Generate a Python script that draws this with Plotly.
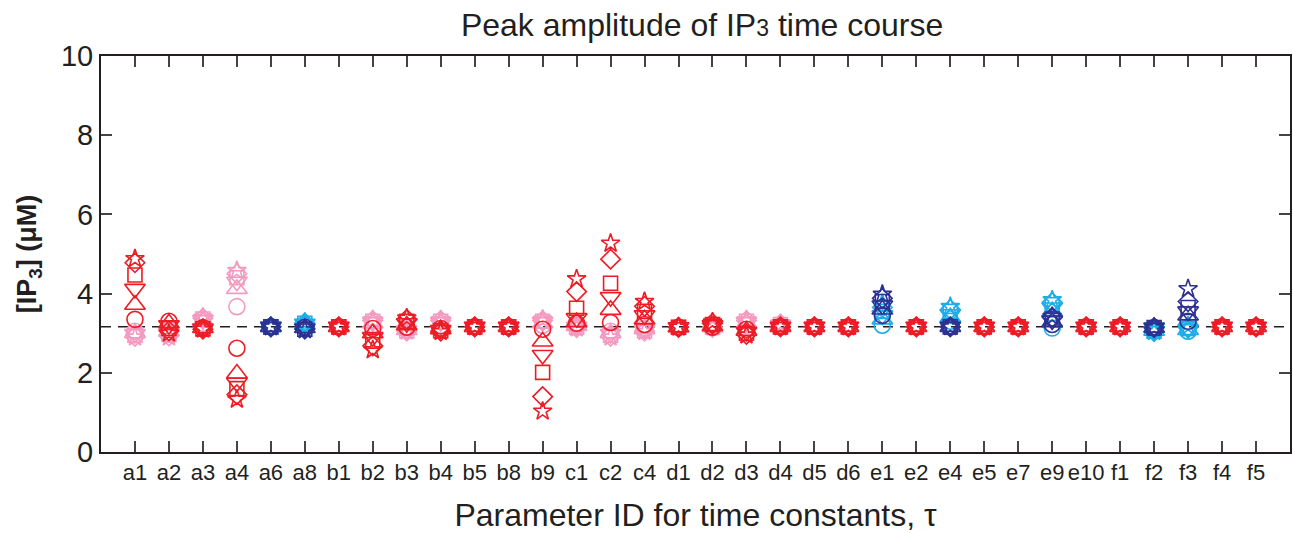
import plotly.graph_objects as go

categories = ["a1","a2","a3","a4","a6","a8","b1","b2","b3","b4","b5","b8","b9",
              "c1","c2","c4","d1","d2","d3","d4","d5","d6",
              "e1","e2","e4","e5","e7","e9","e10","f1","f2","f3","f4","f5"]

# primary series (red / dark blue) per marker type
p_circle   = [3.35,3.30,3.14,2.62,3.16,3.15,3.16,3.12,3.15,3.12,3.16,3.16,3.10,3.25,3.27,3.22,3.15,3.15,3.10,3.16,3.16,3.16,3.45,3.16,3.16,3.16,3.16,3.22,3.16,3.16,3.14,3.30,3.16,3.16]
p_tri_up   = [3.72,3.25,3.13,1.98,3.16,3.13,3.16,3.00,3.20,3.10,3.16,3.16,2.79,3.28,3.59,3.35,3.15,3.18,3.06,3.16,3.16,3.16,3.60,3.16,3.16,3.16,3.16,3.28,3.16,3.16,3.14,3.45,3.16,3.16]
p_tri_down = [4.12,3.20,3.12,1.75,3.16,3.12,3.16,2.90,3.25,3.08,3.16,3.16,2.45,3.38,3.91,3.45,3.15,3.20,3.03,3.16,3.16,3.16,3.70,3.16,3.16,3.16,3.16,3.32,3.16,3.16,3.14,3.55,3.16,3.16]
p_square   = [4.47,3.12,3.11,1.60,3.16,3.10,3.16,2.80,3.30,3.06,3.16,3.16,2.01,3.63,4.26,3.55,3.15,3.22,3.00,3.16,3.16,3.16,3.80,3.16,3.16,3.16,3.16,3.36,3.16,3.16,3.14,3.65,3.16,3.16]
p_diamond  = [4.78,3.06,3.10,1.45,3.16,3.10,3.16,2.68,3.35,3.05,3.16,3.16,1.40,4.05,4.87,3.68,3.15,3.25,2.97,3.16,3.16,3.16,3.88,3.16,3.16,3.16,3.16,3.40,3.16,3.16,3.14,3.80,3.16,3.16]
p_star     = [4.88,3.00,3.10,1.33,3.16,3.08,3.16,2.58,3.38,3.04,3.16,3.16,1.03,4.37,5.27,3.80,3.15,3.28,2.95,3.16,3.16,3.16,3.98,3.16,3.16,3.16,3.16,3.42,3.16,3.16,3.14,4.12,3.16,3.16]

# secondary series (pink / light blue) per marker type
s_circle   = [3.05,3.10,3.25,3.67,3.16,3.20,3.16,3.20,3.10,3.20,3.16,3.16,3.20,3.20,3.05,3.12,3.15,3.15,3.20,3.18,3.16,3.16,3.20,3.16,3.30,3.16,3.16,3.13,3.16,3.16,3.06,3.05,3.16,3.16]
s_tri_up   = [3.00,3.05,3.30,4.12,3.16,3.22,3.16,3.25,3.08,3.25,3.16,3.16,3.25,3.18,3.00,3.10,3.15,3.15,3.25,3.20,3.16,3.16,3.35,3.16,3.40,3.16,3.16,3.55,3.16,3.16,3.06,3.08,3.16,3.16]
s_tri_down = [2.98,3.00,3.33,4.30,3.16,3.24,3.16,3.28,3.07,3.28,3.16,3.16,3.28,3.16,2.98,3.08,3.15,3.15,3.28,3.21,3.16,3.16,3.45,3.16,3.48,3.16,3.16,3.65,3.16,3.16,3.05,3.10,3.16,3.16]
s_square   = [2.95,2.97,3.36,4.40,3.16,3.25,3.16,3.30,3.06,3.30,3.16,3.16,3.30,3.15,2.95,3.06,3.15,3.15,3.30,3.22,3.16,3.16,3.55,3.16,3.55,3.16,3.16,3.72,3.16,3.16,3.05,3.12,3.16,3.16]
s_diamond  = [2.92,2.93,3.38,4.50,3.16,3.26,3.16,3.32,3.05,3.32,3.16,3.16,3.32,3.14,2.92,3.05,3.15,3.15,3.32,3.23,3.16,3.16,3.65,3.16,3.60,3.16,3.16,3.78,3.16,3.16,3.04,3.15,3.16,3.16]
s_star     = [2.90,2.90,3.40,4.58,3.16,3.27,3.16,3.34,3.05,3.34,3.16,3.16,3.35,3.13,2.90,3.04,3.15,3.15,3.34,3.24,3.16,3.16,3.75,3.16,3.67,3.16,3.16,3.84,3.16,3.16,3.04,3.18,3.16,3.16]

blue_ids = ["a6","a8","e1","e4","e9","f2","f3"]
baseline = 3.16
y_ticks = [0, 2, 4, 6, 8, 10]

RED, PINK, DBLUE, LBLUE = "#ED1C24", "#F49AC1", "#2E3192", "#1CAEE8"
prim_colors = [DBLUE if c in blue_ids else RED for c in categories]
sec_colors = [LBLUE if c in blue_ids else PINK for c in categories]

xpos = list(range(1, len(categories) + 1))
symbols = [("circle", 16), ("triangle-up", 18), ("triangle-down", 18),
           ("square", 14), ("diamond", 15), ("star", 14)]

fig = go.Figure()
for vals_set, cols in [((s_circle, s_tri_up, s_tri_down, s_square, s_diamond, s_star), sec_colors),
                       ((p_circle, p_tri_up, p_tri_down, p_square, p_diamond, p_star), prim_colors)]:
    for (sym, sz), vals in zip(symbols, vals_set):
        fig.add_trace(go.Scatter(
            x=xpos, y=vals, mode="markers", showlegend=False, hoverinfo="skip",
            marker=dict(symbol=sym, size=sz, color="rgba(0,0,0,0)",
                        line=dict(color=cols, width=1.6))))

fig.add_shape(type="line", xref="x", yref="y", x0=0, x1=len(categories) + 1,
              y0=baseline, y1=baseline, layer="below",
              line=dict(color="#231F20", width=1.5, dash="10px,7px"))

FONT = "Liberation Sans, Arial, sans-serif"
TXT = "#231F20"
fig.update_layout(
    width=1293, height=533,
    margin=dict(l=101, r=1, t=56, b=81),
    plot_bgcolor="white", paper_bgcolor="white",
    font=dict(family=FONT, color=TXT),
    title=dict(text="Peak amplitude of IP<span style='font-size:23px'>3</span> time course",
               x=0.543, xanchor="center", xref="container", y=0.953, yanchor="middle",
               yref="container", font=dict(size=32, color=TXT, family=FONT)),
    xaxis=dict(range=[0, len(categories) + 1], tickvals=xpos, ticktext=categories,
               ticks="inside", ticklen=11, tickwidth=1.5, tickcolor="#444",
               showline=True, linewidth=2, linecolor=TXT, mirror="ticks",
               showgrid=False, zeroline=False, tickfont=dict(size=22, color=TXT),
               title=dict(text="Parameter ID for time constants, τ",
                          font=dict(size=32, color=TXT), standoff=21)),
    yaxis=dict(range=[0, 10], tickvals=y_ticks,
               ticks="inside", ticklen=11, tickwidth=1.5, tickcolor="#444",
               showline=True, linewidth=2, linecolor=TXT, mirror="ticks",
               showgrid=False, zeroline=False, tickfont=dict(size=29, color=TXT),
               title=dict(text="<b>[IP<sub>3</sub>] (μM)</b>",
                          font=dict(size=27, color=TXT), standoff=16)),
)

fig.write_html("out.html")
